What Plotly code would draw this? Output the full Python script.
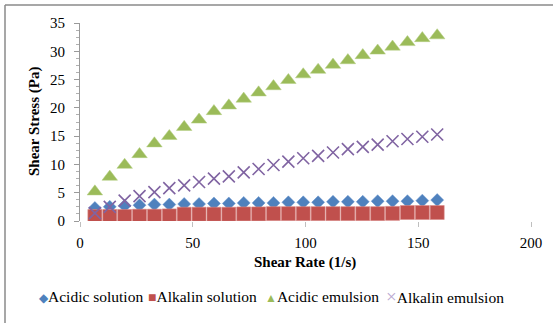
import plotly.graph_objects as go

# ---- data ----
shear_rate = [6.6, 13.2, 19.8, 26.4, 33.0, 39.6, 46.2, 52.8, 59.4, 66.0, 72.6, 79.2,
              85.8, 92.4, 99.0, 105.6, 112.2, 118.8, 125.4, 132.0, 138.6, 145.2, 151.8, 158.4]

acidic_solution = [2.3, 2.5, 2.7, 2.8, 2.9, 2.9, 3.0, 3.0, 3.1, 3.1, 3.2, 3.2,
                   3.2, 3.3, 3.3, 3.3, 3.4, 3.4, 3.4, 3.5, 3.5, 3.5, 3.6, 3.7]
alkalin_solution = [0.8, 0.8, 0.8, 0.85, 0.85, 0.9, 1.2, 1.2, 1.2, 1.2, 1.25, 1.25,
                    1.3, 1.3, 1.3, 1.3, 1.3, 1.3, 1.3, 1.3, 1.35, 1.5, 1.5, 1.5]
acidic_emulsion = [5.2, 7.8, 9.9, 11.8, 13.7, 15.0, 16.6, 17.9, 19.4, 20.4, 21.6, 22.7,
                   23.8, 24.9, 25.9, 26.7, 27.6, 28.4, 29.3, 30.1, 30.8, 31.6, 32.3, 32.8]
alkalin_emulsion = [1.4, 2.5, 3.6, 4.4, 5.1, 5.8, 6.3, 6.9, 7.5, 7.9, 8.6, 9.2,
                    9.9, 10.5, 11.1, 11.5, 12.1, 12.7, 13.1, 13.5, 14.1, 14.5, 14.9, 15.3]

series_names = ["Acidic solution", "Alkalin solution", "Acidic emulsion", "Alkalin emulsion"]
colors = ["#4F81BD", "#C0504D", "#9BBB59", "#8064A2"]

x_ticks = [0, 50, 100, 150, 200]
y_ticks = [0, 5, 10, 15, 20, 25, 30, 35]

# ---- layout geometry ----
W, H = 554, 324
ML, MR, MT, MB = 80, 23, 23, 103
PW, PH = W - ML - MR, H - MT - MB


def px_x(px):
    return (px - ML) / PW


def px_y(py):
    return (H - MB - py) / PH


FONT = "Liberation Serif"

fig = go.Figure()
fig.add_trace(go.Scatter(x=shear_rate, y=acidic_solution, mode="markers", name=series_names[0],
                         marker=dict(symbol="diamond", size=10, color=colors[0],
                                     line=dict(width=0.5, color="#6b97cf"))))
fig.add_trace(go.Scatter(x=shear_rate, y=alkalin_solution, mode="markers", name=series_names[1],
                         marker=dict(symbol="square", size=14, color=colors[1],
                                     line=dict(width=0.6, color="#d98a88"))))
fig.add_trace(go.Scatter(x=shear_rate, y=acidic_emulsion, mode="markers", name=series_names[2],
                         marker=dict(symbol="triangle-up", size=13.5, color=colors[2],
                                     line=dict(width=0.5, color="#b5cf85"))))
fig.add_trace(go.Scatter(x=shear_rate, y=alkalin_emulsion, mode="markers", name=series_names[3],
                         marker=dict(symbol="x-thin-open", size=12, color=colors[3],
                                     line=dict(width=1.6, color=colors[3]))))

fig.update_layout(
    width=W, height=H,
    margin=dict(l=ML, r=MR, t=MT, b=MB, pad=0),
    paper_bgcolor="white", plot_bgcolor="white",
    showlegend=False,
    font=dict(family=FONT, size=15, color="#000000"),
)
fig.update_xaxes(range=[0, 200], tickvals=x_ticks, ticktext=[str(v) for v in x_ticks],
                 showgrid=False, zeroline=False, showline=False,
                 ticks="outside", ticklen=5, tickcolor="#bfbfbf", tickwidth=1,
                 ticklabelstandoff=3, tickfont=dict(family=FONT, size=15))
fig.update_yaxes(range=[0, 35], tickvals=y_ticks, ticktext=[str(v) for v in y_ticks],
                 showgrid=False, zeroline=False, showline=True, linecolor="#9a9a9a", linewidth=1,
                 ticks="outside", ticklen=5, tickcolor="#9a9a9a", tickwidth=1,
                 minor=dict(ticks="outside", ticklen=3, dtick=1.25, tickcolor="#b0b0b0"),
                 ticklabelstandoff=6, tickfont=dict(family=FONT, size=15))

annotations = [
    dict(text="<b>Shear Rate (1/s)</b>", x=px_x(305), y=px_y(262), xref="paper", yref="paper",
         showarrow=False, xanchor="center", yanchor="middle", font=dict(family=FONT, size=15)),
    dict(text="<b>Shear Stress (Pa)</b>", x=px_x(34), y=px_y(122), xref="paper", yref="paper",
         showarrow=False, xanchor="center", yanchor="middle", textangle=-90,
         font=dict(family=FONT, size=15)),
]

legend_symbols = ["◆", "■", "▲", "×"]
legend_symbol_sizes = [12, 14, 12, 19]
legend_starts = [37, 146, 263, 384]
for sym, ssize, name, col, xs in zip(legend_symbols, legend_symbol_sizes, series_names, colors, legend_starts):
    sym_col = col if sym != "×" else "#b9a8d1"
    annotations.append(dict(
        text=f'<span style="color:{sym_col};font-size:{ssize}px">{sym}</span>{name}',
        x=px_x(xs), y=px_y(296), xref="paper", yref="paper", showarrow=False,
        xanchor="left", yanchor="middle", font=dict(family=FONT, size=15.5)))

fig.update_layout(annotations=annotations)

# outer chart border (only top & left visible in reference)
fig.add_shape(type="line", xref="paper", yref="paper",
              x0=px_x(5), x1=px_x(W - 1), y0=px_y(5), y1=px_y(5),
              line=dict(color="#8a8a8a", width=1.5))
fig.add_shape(type="line", xref="paper", yref="paper",
              x0=px_x(5), x1=px_x(5), y0=px_y(5), y1=px_y(H - 1),
              line=dict(color="#8a8a8a", width=1.5))

fig.write_html("out.html", config={"displayModeBar": False},
               post_script="document.body.style.margin='0';")
